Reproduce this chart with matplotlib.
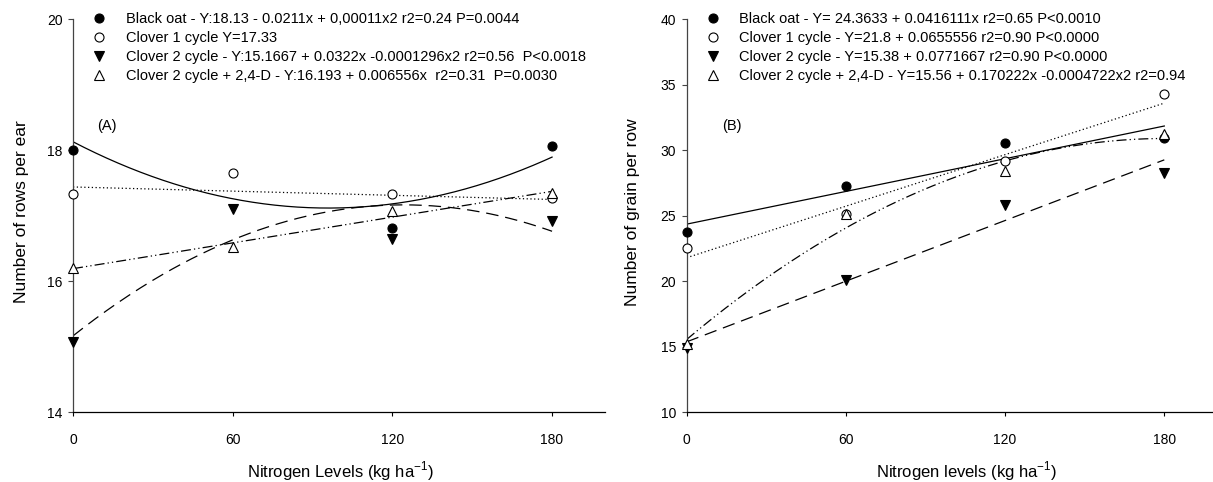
import numpy as np
import matplotlib.pyplot as plt

plt.rcParams['font.family'] = 'Liberation Sans'
plt.rcParams['mathtext.fontset'] = 'custom'
plt.rcParams['mathtext.rm'] = 'Liberation Sans'

# Nitrogen doses (kg/ha)
nitrogen = [0, 60, 120, 180]

# (A) number of rows per ear
rows_black_oat = [18.00, np.nan, 16.81, 18.07]
rows_clover1 = [17.33, 17.66, 17.34, 17.27]
rows_clover2 = [15.07, 17.10, 16.64, 16.92]
rows_clover2_24d = [16.21, 16.53, 17.07, 17.35]

# regression coefficients (a, b, c) for y = a + b*x + c*x^2
rows_fit_black_oat = [18.13, -0.0211, 0.00011]
rows_fit_clover1 = [17.44, -0.00106, 0.0]
rows_fit_clover2 = [15.1667, 0.0322, -0.0001296]
rows_fit_clover2_24d = [16.193, 0.006556, 0.0]

rows_labels = [
    "Black oat - Y:18.13 - 0.0211x + 0,00011x2 r2=0.24 P=0.0044",
    "Clover 1 cycle Y=17.33",
    "Clover 2 cycle - Y:15.1667 + 0.0322x -0.0001296x2 r2=0.56  P<0.0018",
    "Clover 2 cycle + 2,4-D - Y:16.193 + 0.006556x  r2=0.31  P=0.0030",
]

# (B) number of grains per row
grain_black_oat = [23.76, 27.27, 30.59, 30.97]
grain_clover1 = [22.54, 25.10, 29.16, 34.26]
grain_clover2 = [14.90, 20.10, 25.80, 28.30]
grain_clover2_24d = [15.20, 25.10, 28.40, 31.28]

grain_fit_black_oat = [24.3633, 0.0416111, 0.0]
grain_fit_clover1 = [21.8, 0.0655556, 0.0]
grain_fit_clover2 = [15.38, 0.0771667, 0.0]
grain_fit_clover2_24d = [15.56, 0.170222, -0.0004722]

grain_labels = [
    "Black oat - Y= 24.3633 + 0.0416111x r2=0.65 P<0.0010",
    "Clover 1 cycle - Y=21.8 + 0.0655556 r2=0.90 P<0.0000",
    "Clover 2 cycle - Y=15.38 + 0.0771667 r2=0.90 P<0.0000",
    "Clover 2 cycle + 2,4-D - Y=15.56 + 0.170222x -0.0004722x2 r2=0.94",
]

markers = ['o', 'o', 'v', '^']
faces = ['black', 'white', 'black', 'white']
dashes = [None, (1, 2), (10, 5.5), (8, 2.5, 1, 2.5, 1, 2.5)]


def draw_panel(ax, series, fits, labels, ylim, yticks):
    xs = np.linspace(0, 180, 300)
    for coef, d in zip(fits, dashes):
        ys = coef[0] + coef[1] * xs + coef[2] * xs ** 2
        line, = ax.plot(xs, ys, color='black', lw=0.9, zorder=2)
        if d is not None:
            line.set_dashes(d)
    handles = []
    for vals, m, fc, lab in zip(series, markers, faces, labels):
        h, = ax.plot(nitrogen, vals, ls='none', marker=m, ms=6.5, mfc=fc,
                     mec='black', mew=0.8, clip_on=False, zorder=4, label=lab)
        handles.append(h)
    ax.legend(handles=handles, loc='upper left', bbox_to_anchor=(0.036, 1.018),
              frameon=False, fontsize=10.5, handlelength=1.0, handletextpad=1.3,
              labelspacing=0.33, borderpad=0, borderaxespad=0, numpoints=1)
    ax.set_xlim(0, 200)
    ax.set_ylim(*ylim)
    ax.set_xticks([0, 60, 120, 180])
    ax.set_yticks(yticks)
    for s in ['top', 'right']:
        ax.spines[s].set_visible(False)
    ax.spines['left'].set_color('#444444')
    ax.spines['left'].set_linewidth(0.9)
    ax.spines['bottom'].set_linewidth(0.9)
    ax.tick_params(axis='x', direction='out', length=3, width=0.8, pad=12,
                   labelsize=10)
    ax.tick_params(axis='y', direction='out', length=3.5, width=0.8, pad=4,
                   labelsize=10, color='#444444')


fig = plt.figure(figsize=(12.13, 4.82), dpi=100)
ax1 = fig.add_axes([0.0602, 0.1446, 0.4388, 0.8154])
ax2 = fig.add_axes([0.5661, 0.1446, 0.4375, 0.8154])

draw_panel(ax1,
           [rows_black_oat, rows_clover1, rows_clover2, rows_clover2_24d],
           [rows_fit_black_oat, rows_fit_clover1, rows_fit_clover2, rows_fit_clover2_24d],
           rows_labels, (14, 20), [14, 16, 18, 20])
draw_panel(ax2,
           [grain_black_oat, grain_clover1, grain_clover2, grain_clover2_24d],
           [grain_fit_black_oat, grain_fit_clover1, grain_fit_clover2, grain_fit_clover2_24d],
           grain_labels, (10, 40), [10, 15, 20, 25, 30, 35, 40])

ax1.text(9.0, 18.37, "(A)", fontsize=10.5, va='center')
ax2.text(13.3, 31.85, "(B)", fontsize=10.5, va='center')

fig.text(22 / 1213, 0.56, "Number of rows per ear", rotation=90,
         ha='center', va='center', fontsize=12.5)
fig.text(633 / 1213, 0.56, "Number of grain per row", rotation=90,
         ha='center', va='center', fontsize=12.5)
fig.text(340 / 1213, 1 - 471 / 482, "Nitrogen Levels (kg ha$^{-1}$)",
         ha='center', va='center', fontsize=12)
fig.text(967 / 1213, 1 - 471 / 482, "Nitrogen levels (kg ha$^{-1}$)",
         ha='center', va='center', fontsize=12)

fig.savefig("out.png", dpi=100)
